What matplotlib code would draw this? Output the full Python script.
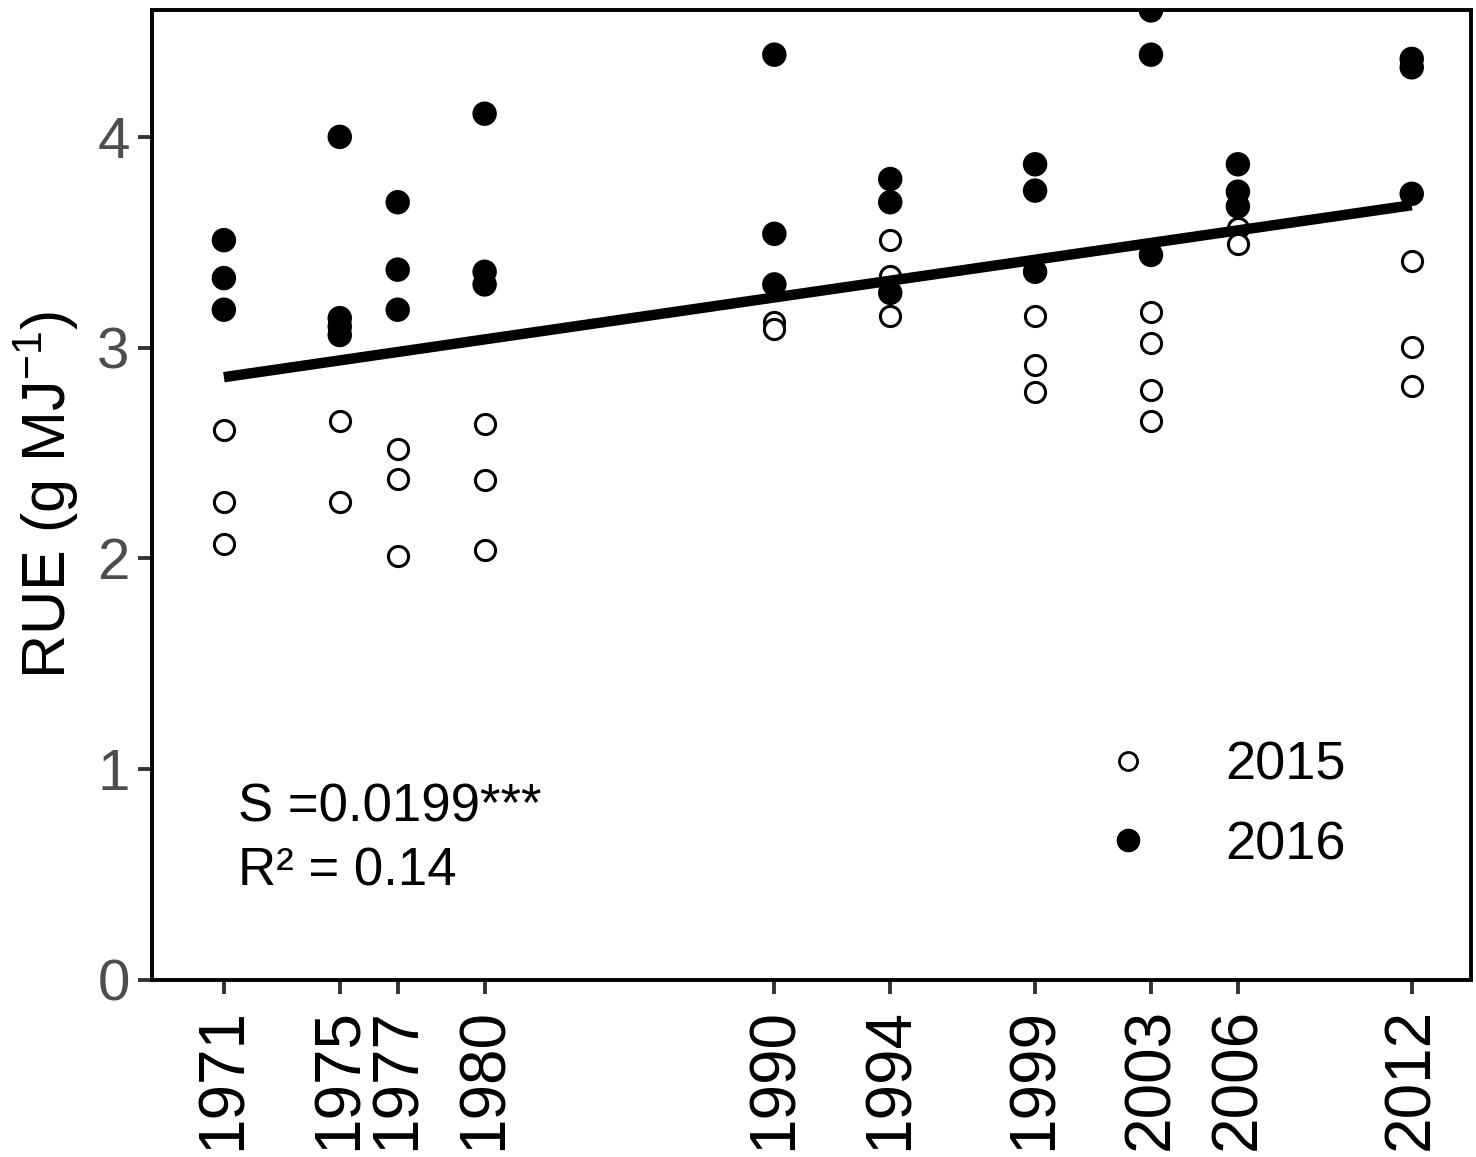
import matplotlib
matplotlib.use("Agg")
import matplotlib.pyplot as plt
import numpy as np
from matplotlib.lines import Line2D

plt.rcParams.update(
    {
        "font.family": ["Liberation Sans", "DejaVu Sans"],
        "mathtext.fontset": "custom",
        "mathtext.rm": "Liberation Sans",
    }
)

# 2015 season (open circles)
yr_2015 = [1971, 1971, 1971, 1975, 1975, 1977, 1977, 1977, 1980, 1980, 1980,
           1990, 1990, 1994, 1994, 1994, 1999, 1999, 1999,
           2003, 2003, 2003, 2003, 2006, 2006, 2012, 2012, 2012]
rue_2015 = [2.61, 2.27, 2.07, 2.65, 2.27, 2.52, 2.375, 2.01, 2.64, 2.37, 2.04,
            3.12, 3.09, 3.51, 3.34, 3.15, 3.15, 2.92, 2.79,
            3.17, 3.02, 2.80, 2.65, 3.57, 3.49, 3.41, 3.005, 2.82]

# 2016 season (filled circles)
yr_2016 = [1971, 1971, 1971, 1975, 1975, 1975, 1975, 1977, 1977, 1977,
           1980, 1980, 1980, 1990, 1990, 1990, 1994, 1994, 1994,
           1999, 1999, 1999, 2003, 2003, 2003, 2006, 2006, 2006,
           2012, 2012, 2012]
rue_2016 = [3.51, 3.33, 3.18, 4.00, 3.14, 3.10, 3.06, 3.69, 3.37, 3.18,
            4.11, 3.36, 3.30, 4.39, 3.54, 3.30, 3.80, 3.69, 3.26,
            3.87, 3.745, 3.36, 4.60, 4.39, 3.44, 3.87, 3.74, 3.67,
            4.37, 4.33, 3.73]

tick_years = [1971, 1975, 1977, 1980, 1990, 1994, 1999, 2003, 2006, 2012]

# fitted trend
slope = 0.0199
fit_at_1971 = 2.86
r2 = 0.14

fig = plt.figure(figsize=(14.76, 11.57), dpi=100)
ax = fig.add_axes([0.103, 0.153, 0.8935, 0.838])

ax.scatter(yr_2015, rue_2015, s=210, facecolors="white", edgecolors="black",
           linewidths=2.2, zorder=3)
ax.scatter(yr_2016, rue_2016, s=310, c="black", edgecolors="none", zorder=3)

xfit = np.array([min(tick_years), max(tick_years)])
yfit = fit_at_1971 + slope * (xfit - 1971)
ax.plot(xfit, yfit, color="black", lw=7.5, solid_capstyle="butt", zorder=4)

ax.set_xlim(1968.52, 2014.04)
ax.set_ylim(0, 4.6)
ax.set_xticks(tick_years)
ax.set_xticklabels([str(y) for y in tick_years], rotation=90, fontsize=46,
                   color="black")
ax.set_yticks([0, 1, 2, 3, 4])
ax.set_yticklabels(["0", "1", "2", "3", "4"], fontsize=42, color="#4D4D4D")
ax.tick_params(axis="both", length=10, width=2.8, color="#333333", pad=6)
ax.tick_params(axis="x", pad=10)
for sp in ax.spines.values():
    sp.set_linewidth(2.8)
    sp.set_color("black")

ax.set_ylabel("RUE (g MJ$^{\\mathregular{-1}}$)", fontsize=44, labelpad=12)

ax.text(1971.48, 0.75, f"S ={slope}***", fontsize=38, va="baseline", ha="left")
ax.text(1971.48, 0.45, f"R² = {r2}", fontsize=38, va="baseline", ha="left")

handles = [
    Line2D([0], [0], marker="o", ls="none", markerfacecolor="white",
           markeredgecolor="black", markeredgewidth=2.0, markersize=13,
           label="2015"),
    Line2D([0], [0], marker="o", ls="none", markerfacecolor="black",
           markeredgecolor="black", markersize=16, label="2016"),
]
ax.legend(handles=handles, loc="center", bbox_to_anchor=(0.802, 0.18),
          frameon=False, fontsize=39, handletextpad=0.8, labelspacing=0.55,
          borderaxespad=0)

fig.savefig("out.png", dpi=100)
